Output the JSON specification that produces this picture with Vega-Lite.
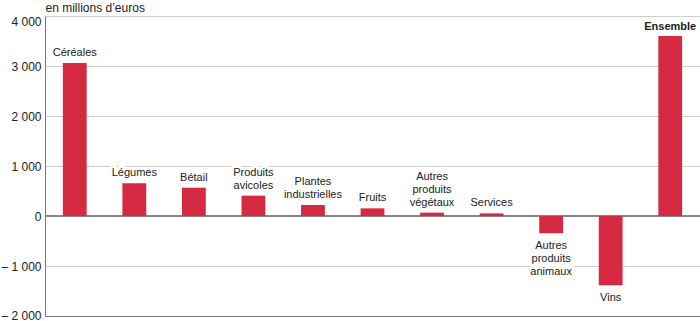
{
  "$schema": "https://vega.github.io/schema/vega-lite/v6.json",
  "width": 655,
  "height": 300,
  "autosize": "none",
  "padding": {"left": 45, "top": 16, "right": 0, "bottom": 5},
  "background": "white",
  "config": {
    "view": {"stroke": null},
    "font": "Liberation Sans",
    "text": {"font": "Liberation Sans"}
  },
  "data": {
    "values": [
      {"cat": "Céréales", "label": "Céréales", "value": 3060},
      {"cat": "Légumes", "label": "Légumes", "value": 655},
      {"cat": "Bétail", "label": "Bétail", "value": 566},
      {"cat": "Produits avicoles", "label": "Produits\navicoles", "value": 407},
      {"cat": "Plantes industrielles", "label": "Plantes\nindustrielles", "value": 220},
      {"cat": "Fruits", "label": "Fruits", "value": 153},
      {"cat": "Autres produits végétaux", "label": "Autres\nproduits\nvégétaux", "value": 67},
      {"cat": "Services", "label": "Services", "value": 53},
      {"cat": "Autres produits animaux", "label": "Autres\nproduits\nanimaux", "value": -347},
      {"cat": "Vins", "label": "Vins", "value": -1387},
      {"cat": "Ensemble", "label": "Ensemble", "value": 3600}
    ]
  },
  "encoding": {
    "x": {
      "field": "cat", "type": "nominal", "sort": null,
      "scale": {"paddingInner": 0.6, "paddingOuter": 0.3},
      "axis": {"labels": false, "ticks": false, "title": null, "domainColor": "#777", "domainWidth": 1.2}
    },
    "y": {
      "field": "value", "type": "quantitative",
      "scale": {"domain": [-2000, 4000], "nice": false, "zero": false},
      "axis": {
        "values": [-2000, -1000, 0, 1000, 2000, 3000, 4000],
        "labelExpr": "(datum.value < 0 ? '– ' : '') + replace(format(abs(datum.value), ','), ',', ' ')",
        "labelFontSize": 12, "labelColor": "#222", "labelPadding": 4, "labelFont": "Liberation Sans",
        "labelOffset": {"condition": [{"test": "datum.value == 4000", "value": 5}, {"test": "datum.value == -2000", "value": -1}], "value": 0},
        "ticks": false, "grid": true, "gridColor": "#cfcfcf", "gridWidth": 1,
        "domainColor": "#777", "domainWidth": 1,
        "title": "en millions d’euros", "titleAngle": 0, "titleAlign": "left", "titleBaseline": "middle",
        "titleX": 0, "titleY": -9, "titleFontSize": 12, "titleFontWeight": "normal", "titleColor": "#222", "titleFont": "Liberation Sans"
      }
    }
  },
  "layer": [
    {"mark": {"type": "rule", "color": "#888", "strokeWidth": 1.2}, "encoding": {"y": {"datum": 0}, "x": {"value": 0}, "x2": {"value": 655}}},
    {
      "transform": [{"filter": "datum.value >= 0 && datum.cat != 'Ensemble'"}],
      "mark": {"type": "text", "baseline": "bottom", "dy": {"expr": "-5 - 13*(length(split(datum.label, '\\n')) - 1)"}, "fontSize": 11, "lineBreak": "\n", "lineHeight": 13, "color": "white", "stroke": "white", "strokeWidth": 6, "strokeJoin": "round"},
      "encoding": {"text": {"field": "label"}}
    },
    {
      "transform": [{"filter": "datum.value < 0"}],
      "mark": {"type": "text", "baseline": "top", "dy": 7, "fontSize": 11, "lineBreak": "\n", "lineHeight": 13, "color": "white", "stroke": "white", "strokeWidth": 6, "strokeJoin": "round"},
      "encoding": {"text": {"field": "label"}}
    },
    {"mark": {"type": "bar", "color": "#d62a43"}},
    {
      "transform": [{"filter": "datum.value >= 0 && datum.cat != 'Ensemble'"}],
      "mark": {"type": "text", "baseline": "bottom", "dy": {"expr": "-5 - 13*(length(split(datum.label, '\\n')) - 1)"}, "fontSize": 11, "lineBreak": "\n", "lineHeight": 13, "color": "#222"},
      "encoding": {"text": {"field": "label"}}
    },
    {
      "transform": [{"filter": "datum.value < 0"}],
      "mark": {"type": "text", "baseline": "top", "dy": 7, "fontSize": 11, "lineBreak": "\n", "lineHeight": 13, "color": "#222"},
      "encoding": {"text": {"field": "label"}}
    },
    {
      "transform": [{"filter": "datum.cat == 'Ensemble'"}],
      "mark": {"type": "text", "baseline": "bottom", "dy": -4, "fontSize": 11, "fontWeight": "bold", "color": "#222"},
      "encoding": {"text": {"field": "label"}}
    }
  ]
}
